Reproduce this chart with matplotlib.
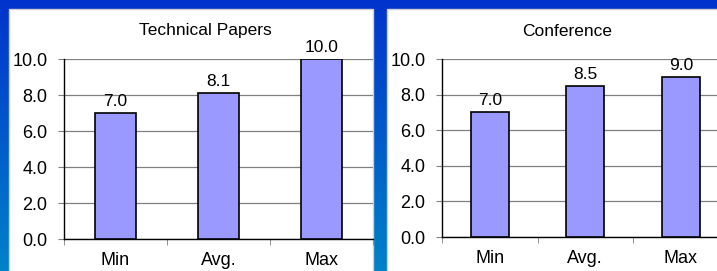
import matplotlib.pyplot as plt
import numpy as np
from matplotlib.patches import Rectangle
from matplotlib.colors import LinearSegmentedColormap

plt.rcParams['font.family'] = ['Liberation Sans', 'DejaVu Sans']

# data
categories = ['Min', 'Avg.', 'Max']
papers_scores = [7.0, 8.1, 10.0]
conference_scores = [7.0, 8.5, 9.0]
titles = ['Technical Papers', 'Conference']

W, H = 717, 271
fig = plt.figure(figsize=(W / 100, H / 100), dpi=100)

# blue gradient backdrop
bg = fig.add_axes([0, 0, 1, 1], zorder=-1)
grad = np.linspace(0, 1, 256).reshape(-1, 1)
cmap = LinearSegmentedColormap.from_list('bg', ['#0033cc', '#0082c8'])
bg.imshow(grad, aspect='auto', cmap=cmap, extent=[0, 1, 0, 1])
bg.set_axis_off()

# white panels
for x0, x1 in [(9, 373), (387, 720)]:
    fig.add_artist(Rectangle((x0 / W, -0.01), (x1 - x0) / W, (H - 9) / H + 0.01,
                             transform=fig.transFigure, facecolor='white',
                             edgecolor='#d0d0d0', linewidth=1, zorder=0.5))


def draw_panel(rect, values, title, title_x):
    ax = fig.add_axes(rect, zorder=2)
    ax.set_facecolor('none')
    x = np.arange(len(categories))
    bars = ax.bar(x, values, width=0.4, color='#9999ff', edgecolor='black',
                  linewidth=1.2, zorder=3)
    ax.bar_label(bars, labels=[f'{v:.1f}' for v in values], padding=3, fontsize=12.5)
    ax.set_xlim(-0.5, 2.5)
    ax.set_ylim(0, 10)
    ax.set_yticks(np.arange(0, 10.1, 2))
    ax.set_yticklabels([f'{v:.1f}' for v in np.arange(0, 10.1, 2)])
    ax.set_xticks(x)
    ax.set_xticklabels(categories)
    ax.set_xticks([-0.5, 0.5, 1.5, 2.5], minor=True)
    ax.tick_params(axis='x', which='major', length=0, pad=9.5, labelsize=13)
    ax.tick_params(axis='x', which='minor', length=4.5, color='#808080')
    ax.tick_params(axis='y', length=4.5, color='#808080', pad=7.5, labelsize=13)
    ax.grid(axis='y', color='#808080', linewidth=0.9, zorder=0)
    ax.set_axisbelow(True)
    for s in ['top', 'right']:
        ax.spines[s].set_visible(False)
    for s in ['left', 'bottom']:
        ax.spines[s].set_color('black')
        ax.spines[s].set_linewidth(1.0)
    fig.text(title_x / W, 1 - 31 / H, title, ha='center', va='center', fontsize=12.5)
    return ax


draw_panel([64 / W, (H - 239) / H, 309 / W, 180 / H], papers_scores, titles[0], 205)
draw_panel([442 / W, (H - 237) / H, 286.5 / W, 178 / H], conference_scores, titles[1], 567)

fig.savefig('out.png', dpi=100)
